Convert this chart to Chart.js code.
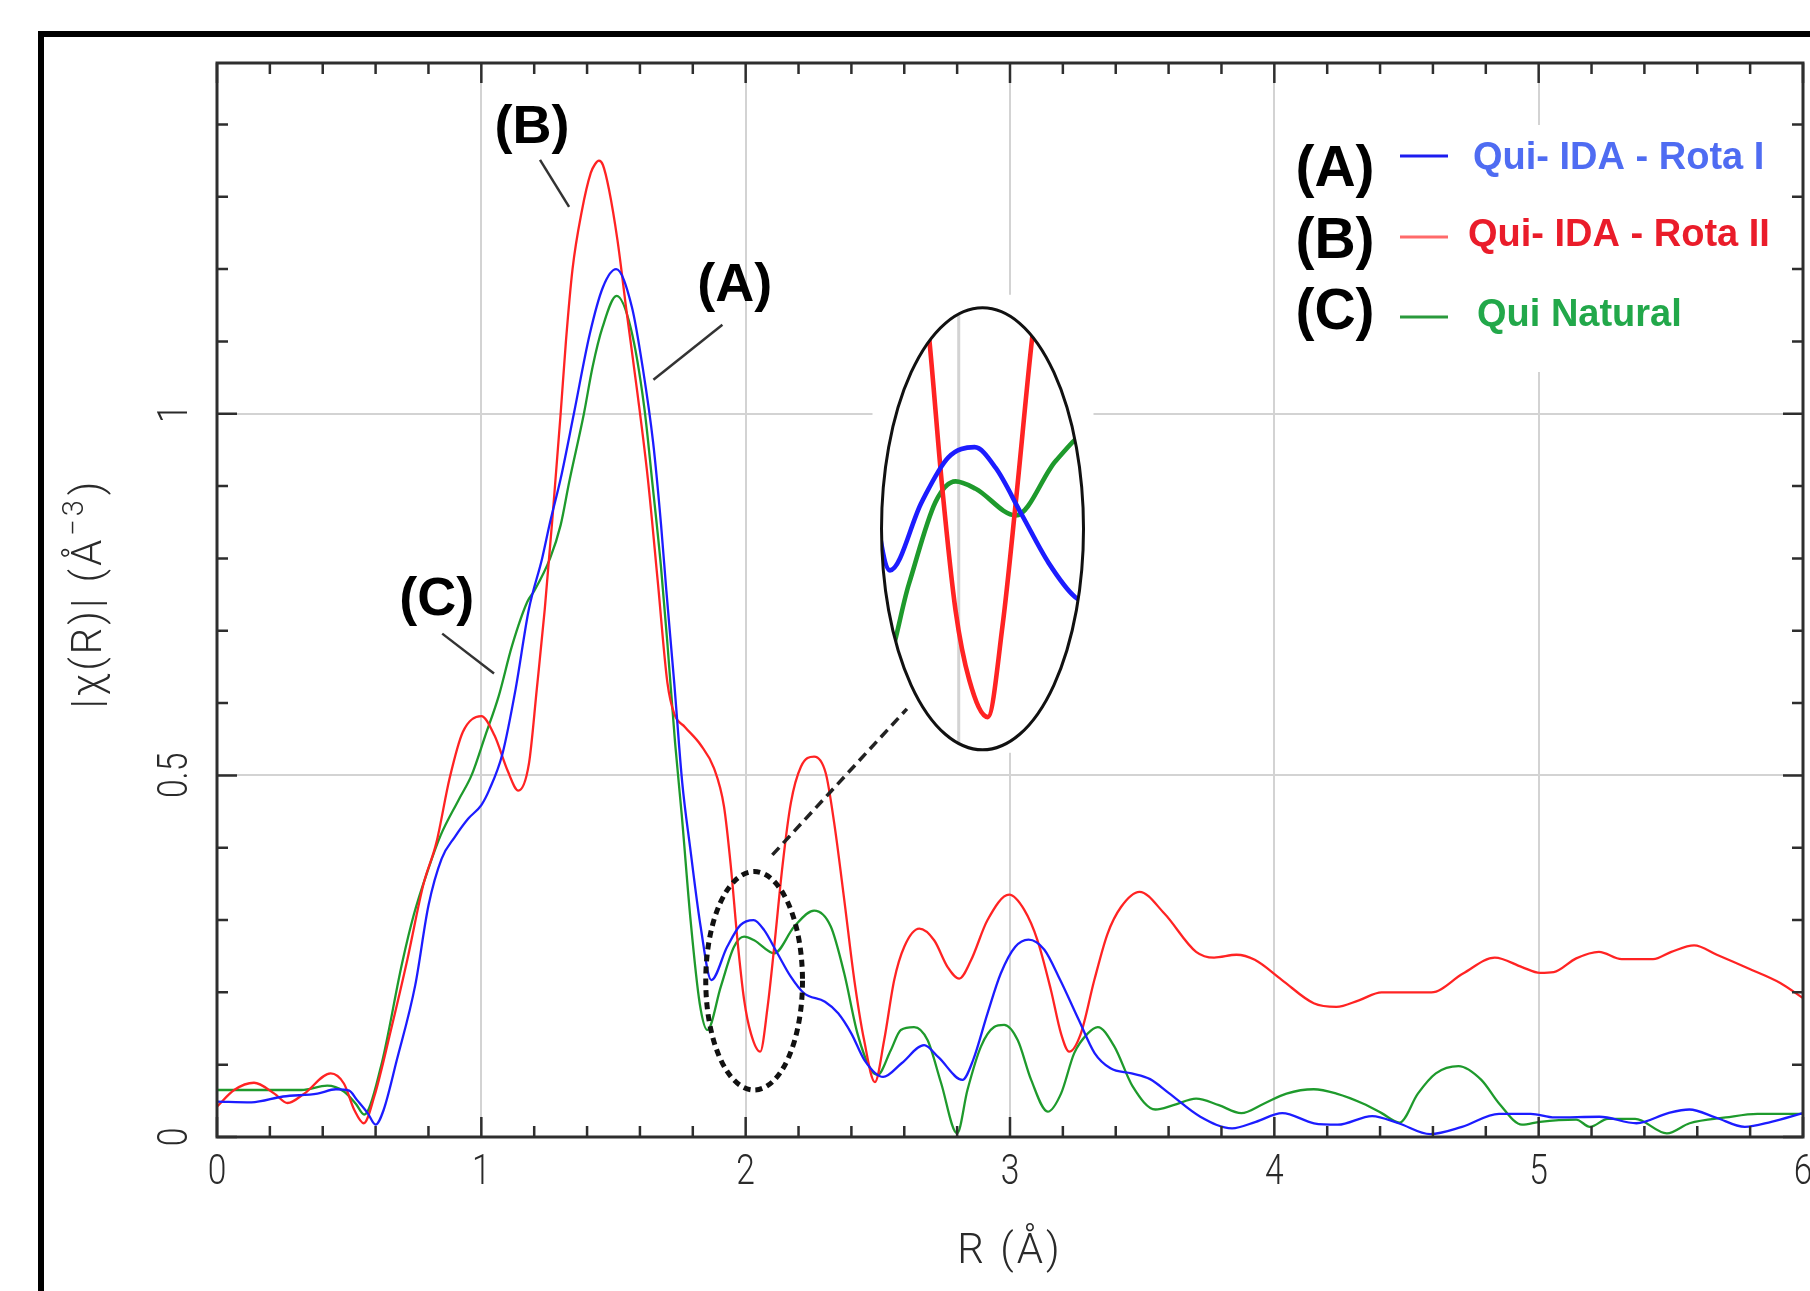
<!DOCTYPE html>
<html>
<head>
<meta charset="utf-8">
<title>|χ(R)| – Qui samples</title>
<script src="https://cdn.jsdelivr.net/npm/chart.js@4.4.1/dist/chart.umd.min.js"></script>
<style>
    html, body { margin: 0; padding: 0; background: #fff; }
    #wrap { width: 1810px; height: 1291px; position: relative; }
</style>
</head>
<body>
<div id="wrap"><canvas id="chiChart"></canvas></div>
<script>
// R (Å) positions and |chi(R)| values, one pair of arrays per sample
const rA = [0, 0.13, 0.25, 0.38, 0.45, 0.50, 0.53, 0.57, 0.60, 0.63, 0.68, 0.75, 0.80, 0.85, 0.90, 0.95, 1.00, 1.03, 1.08, 1.13, 1.18, 1.23, 1.26, 1.30, 1.35, 1.41, 1.46, 1.51, 1.57, 1.61, 1.65, 1.68, 1.70, 1.73, 1.76, 1.79, 1.83, 1.87, 1.93, 1.98, 2.03, 2.07, 2.12, 2.17, 2.22, 2.30, 2.35, 2.40, 2.45, 2.52, 2.59, 2.675, 2.73, 2.82, 2.86, 2.915, 2.965, 3.02, 3.07, 3.13, 3.19, 3.26, 3.32, 3.38, 3.46, 3.53, 3.60, 3.72, 3.84, 3.93, 4.03, 4.15, 4.24, 4.37, 4.47, 4.59, 4.71, 4.85, 4.97, 5.06, 5.23, 5.37, 5.49, 5.57, 5.67, 5.78, 5.88, 6.0];
const chiA = [0.049, 0.048, 0.056, 0.060, 0.066, 0.064, 0.051, 0.033, 0.017, 0.037, 0.106, 0.21, 0.32, 0.385, 0.415, 0.44, 0.459, 0.48, 0.53, 0.62, 0.73, 0.80, 0.85, 0.91, 1.0, 1.11, 1.175, 1.20, 1.147, 1.065, 0.96, 0.846, 0.755, 0.627, 0.49, 0.40, 0.29, 0.217, 0.263, 0.293, 0.30, 0.286, 0.254, 0.222, 0.199, 0.187, 0.171, 0.143, 0.106, 0.083, 0.102, 0.127, 0.11, 0.079, 0.106, 0.171, 0.226, 0.263, 0.273, 0.259, 0.217, 0.162, 0.116, 0.095, 0.088, 0.080, 0.061, 0.028, 0.012, 0.021, 0.033, 0.019, 0.017, 0.029, 0.019, 0.004, 0.014, 0.032, 0.032, 0.027, 0.028, 0.019, 0.033, 0.038, 0.027, 0.014, 0.021, 0.033];

const rB = [0, 0.065, 0.14, 0.217, 0.267, 0.33, 0.43, 0.48, 0.52, 0.555, 0.595, 0.658, 0.72, 0.78, 0.83, 0.88, 0.93, 1.00, 1.05, 1.10, 1.14, 1.18, 1.21, 1.24, 1.27, 1.30, 1.32, 1.345, 1.38, 1.414, 1.43, 1.445, 1.46, 1.483, 1.515, 1.55, 1.59, 1.63, 1.667, 1.704, 1.73, 1.77, 1.83, 1.88, 1.918, 1.944, 1.969, 1.994, 2.02, 2.055, 2.083, 2.108, 2.139, 2.171, 2.209, 2.259, 2.303, 2.335, 2.373, 2.411, 2.448, 2.489, 2.524, 2.562, 2.60, 2.657, 2.713, 2.764, 2.808, 2.852, 2.915, 2.997, 3.054, 3.104, 3.155, 3.193, 3.224, 3.268, 3.319, 3.369, 3.42, 3.49, 3.584, 3.704, 3.772, 3.857, 3.926, 4.029, 4.149, 4.235, 4.32, 4.406, 4.594, 4.714, 4.834, 4.937, 5.005, 5.057, 5.142, 5.228, 5.314, 5.433, 5.502, 5.588, 5.674, 5.794, 5.914, 6.0];
const chiB = [0.042, 0.065, 0.075, 0.060, 0.047, 0.060, 0.088, 0.074, 0.037, 0.019, 0.056, 0.148, 0.245, 0.348, 0.407, 0.496, 0.560, 0.582, 0.555, 0.506, 0.479, 0.516, 0.62, 0.73, 0.86, 1.0, 1.10, 1.20, 1.28, 1.333, 1.345, 1.35, 1.344, 1.31, 1.24, 1.14, 1.03, 0.91, 0.77, 0.628, 0.585, 0.567, 0.542, 0.51, 0.457, 0.374, 0.272, 0.19, 0.143, 0.118, 0.18, 0.263, 0.374, 0.462, 0.512, 0.526, 0.503, 0.434, 0.328, 0.217, 0.134, 0.076, 0.134, 0.217, 0.263, 0.288, 0.272, 0.235, 0.219, 0.244, 0.30, 0.335, 0.314, 0.272, 0.203, 0.143, 0.118, 0.143, 0.217, 0.281, 0.318, 0.339, 0.309, 0.256, 0.248, 0.252, 0.245, 0.217, 0.185, 0.18, 0.189, 0.20, 0.20, 0.226, 0.248, 0.235, 0.227, 0.228, 0.247, 0.256, 0.246, 0.246, 0.256, 0.265, 0.252, 0.233, 0.213, 0.192];

const rC = [0, 0.32, 0.417, 0.48, 0.525, 0.557, 0.62, 0.70, 0.745, 0.796, 0.846, 0.914, 0.964, 1.015, 1.066, 1.116, 1.174, 1.20, 1.26, 1.30, 1.332, 1.388, 1.421, 1.458, 1.512, 1.565, 1.616, 1.648, 1.679, 1.704, 1.733, 1.758, 1.792, 1.826, 1.855, 1.906, 1.956, 1.994, 2.032, 2.108, 2.184, 2.259, 2.322, 2.373, 2.423, 2.474, 2.499, 2.549, 2.587, 2.637, 2.688, 2.739, 2.80, 2.839, 2.89, 2.94, 2.978, 3.029, 3.08, 3.143, 3.193, 3.243, 3.294, 3.332, 3.395, 3.464, 3.55, 3.618, 3.704, 3.79, 3.875, 3.96, 4.046, 4.149, 4.235, 4.337, 4.406, 4.474, 4.543, 4.611, 4.697, 4.783, 4.851, 4.937, 5.005, 5.142, 5.194, 5.262, 5.365, 5.485, 5.571, 5.708, 5.828, 6.0];
const chiC = [0.065, 0.065, 0.071, 0.063, 0.046, 0.031, 0.097, 0.24, 0.308, 0.367, 0.417, 0.466, 0.501, 0.555, 0.61, 0.679, 0.74, 0.755, 0.80, 0.846, 0.905, 1.0, 1.065, 1.119, 1.163, 1.119, 1.01, 0.901, 0.791, 0.682, 0.545, 0.446, 0.298, 0.185, 0.148, 0.208, 0.263, 0.277, 0.272, 0.254, 0.291, 0.313, 0.291, 0.226, 0.143, 0.093, 0.086, 0.12, 0.148, 0.152, 0.134, 0.075, 0.005, 0.065, 0.125, 0.152, 0.155, 0.134, 0.079, 0.035, 0.06, 0.116, 0.143, 0.152, 0.125, 0.07, 0.038, 0.044, 0.053, 0.044, 0.033, 0.046, 0.06, 0.066, 0.06, 0.046, 0.033, 0.02, 0.06, 0.088, 0.098, 0.079, 0.046, 0.017, 0.021, 0.024, 0.014, 0.025, 0.025, 0.005, 0.019, 0.027, 0.032, 0.032];

const seriesTags = ["(A)", "(B)", "(C)"];
const seriesNames = ["Qui- IDA - Rota I", "Qui- IDA - Rota II", "Qui Natural"];
const xTicks = [0, 1, 2, 3, 4, 5, 6];
const yTicks = [0, 0.5, 1];

// styles
const lineColors = ["#1c1cff", "#ff2323", "#1e9a2c"];
const legendLineColors = ["#1c1cf0", "#ff6a6a", "#2a9a3c"];
const legendTextColors = ["#4f6cf2", "#ea1c2a", "#22a84a"];
const gridColor = "#d3d3d3";
const axisColor = "#2e2e2e";
const thinFont = 'Roboto, "Liberation Sans", sans-serif';
const boldFont = '"Liberation Sans", Arial, Helvetica, sans-serif';
const squeeze = 0.8; // tick digits are narrow in the original

// callouts next to the peaks, in data units (label baseline centre, leader start, leader end)
const callouts = [
    { text: "(B)", at: [1.192, 1.375], from: [1.222, 1.351], to: [1.332, 1.286] },
    { text: "(A)", at: [1.959, 1.156], from: [1.912, 1.123], to: [1.651, 1.047] },
    { text: "(C)", at: [0.831, 0.722], from: [0.852, 0.696], to: [1.048, 0.641] }
];
// dotted ring round the region that is magnified, and the magnified inset
const ring = { center: [2.032, 0.216], rx: 0.183, ry: 0.151 };
const connector = { from: [2.101, 0.390], to: [2.610, 0.592] };
const inset = { center: [2.896, 0.841], rx: 101, ry: 221, focus: [2.045, 0.245], zoomX: 2.0, zoomY: 2.05 };

function toPoints(xs, ys) {
    return xs.map(function (x, i) { return { x: x, y: ys[i] }; });
}

// narrow text: draw at (x, y) squeezed horizontally
function narrowText(c, text, x, y, angle) {
    c.save();
    c.translate(x, y);
    if (angle) c.rotate(angle);
    c.scale(squeeze, 1);
    c.fillText(text, 0, 0);
    c.restore();
}

const figurePlugin = {
    id: "figure",
    beforeDraw(chart) {
        const c = chart.ctx;
        c.save();
        c.fillStyle = "#fff";
        c.fillRect(0, 0, chart.width, chart.height);
        c.restore();
    },
    beforeDatasetsDraw(chart) {
        // white patches hide the grid behind the legend and the inset
        const c = chart.ctx, ca = chart.chartArea;
        const sx = chart.scales.x, sy = chart.scales.y;
        c.save();
        c.fillStyle = "#fff";
        c.fillRect(ca.right - 513, ca.top + 62, 508, 247);
        const ex = sx.getPixelForValue(inset.center[0]);
        const ey = sy.getPixelForValue(inset.center[1]);
        c.fillRect(ex - 110, ey - 234, 221, 458);
        c.restore();
    },
    afterDatasetsDraw(chart) {
        const c = chart.ctx, ca = chart.chartArea;
        const sx = chart.scales.x, sy = chart.scales.y;
        const px = v => sx.getPixelForValue(v);
        const py = v => sy.getPixelForValue(v);
        const unitX = px(1) - px(0);
        const unitY = py(0) - py(1);

        c.save();

        // dotted ring
        c.beginPath();
        c.ellipse(px(ring.center[0]), py(ring.center[1]), ring.rx * unitX, ring.ry * unitY, 0, 0, Math.PI * 2);
        c.setLineDash([7, 5]);
        c.lineWidth = 5;
        c.strokeStyle = "#111";
        c.stroke();

        // dashed connector
        c.beginPath();
        c.moveTo(px(connector.from[0]), py(connector.from[1]));
        c.lineTo(px(connector.to[0]), py(connector.to[1]));
        c.setLineDash([10, 6]);
        c.lineWidth = 3.5;
        c.strokeStyle = "#222";
        c.stroke();
        c.setLineDash([]);

        // magnified inset: same line elements, redrawn through a zoom transform
        const ex = px(inset.center[0]), ey = py(inset.center[1]);
        c.save();
        c.beginPath();
        c.ellipse(ex, ey, inset.rx, inset.ry, 0, 0, Math.PI * 2);
        c.clip();
        c.translate(ex, ey);
        c.scale(inset.zoomX, inset.zoomY);
        c.translate(-px(inset.focus[0]), -py(inset.focus[1]));
        c.strokeStyle = gridColor;
        c.lineWidth = 1.5;
        xTicks.forEach(function (t) {
            c.beginPath();
            c.moveTo(px(t), ca.top);
            c.lineTo(px(t), ca.bottom);
            c.stroke();
        });
        for (let i = chart.data.datasets.length - 1; i >= 0; i--) {
            chart.getDatasetMeta(i).dataset.draw(c, ca);
        }
        c.restore();
        c.beginPath();
        c.ellipse(ex, ey, inset.rx, inset.ry, 0, 0, Math.PI * 2);
        c.lineWidth = 3;
        c.strokeStyle = "#111";
        c.stroke();

        // callouts
        c.font = "bold 54px " + boldFont;
        c.textAlign = "center";
        c.textBaseline = "alphabetic";
        callouts.forEach(function (k) {
            c.fillStyle = "#000";
            c.fillText(k.text, px(k.at[0]), py(k.at[1]));
            c.beginPath();
            c.moveTo(px(k.from[0]), py(k.from[1]));
            c.lineTo(px(k.to[0]), py(k.to[1]));
            c.lineWidth = 2.5;
            c.strokeStyle = "#333";
            c.stroke();
        });

        // legend
        const tagY = [186, 258, 329];
        const lineY = [156, 237, 317];
        const textX = [1473, 1468, 1477];
        const textY = [169, 246, 326];
        for (let i = 0; i < 3; i++) {
            c.font = "bold 57px " + boldFont;
            c.textAlign = "center";
            c.fillStyle = "#000";
            c.fillText(seriesTags[i], 1335, tagY[i]);
            c.beginPath();
            c.moveTo(1400, lineY[i]);
            c.lineTo(1448, lineY[i]);
            c.lineWidth = 3;
            c.strokeStyle = legendLineColors[i];
            c.stroke();
            c.font = "bold 38px " + boldFont;
            c.textAlign = "left";
            c.fillStyle = legendTextColors[i];
            c.fillText(seriesNames[i], textX[i], textY[i]);
        }

        // frame of the plot with inward ticks on all four sides
        c.strokeStyle = axisColor;
        c.lineWidth = 3;
        c.strokeRect(ca.left, ca.top, ca.right - ca.left, ca.bottom - ca.top);
        c.lineWidth = 2.5;
        c.beginPath();
        for (let i = 0; i <= 30; i++) {
            const x = px(i / 5);
            const len = i % 5 === 0 ? 20 : 11;
            c.moveTo(x, ca.bottom); c.lineTo(x, ca.bottom - len);
            c.moveTo(x, ca.top); c.lineTo(x, ca.top + len);
        }
        for (let i = 0; i <= 14; i++) {
            const y = py(i / 10);
            const len = i % 5 === 0 ? 20 : 11;
            c.moveTo(ca.left, y); c.lineTo(ca.left + len, y);
            c.moveTo(ca.right, y); c.lineTo(ca.right - len, y);
        }
        c.stroke();

        // tick labels
        c.fillStyle = "#2a2a2a";
        c.font = "300 42px " + thinFont;
        c.textAlign = "center";
        c.textBaseline = "middle";
        xTicks.forEach(function (t) {
            narrowText(c, String(t), px(t), ca.bottom + 36);
        });
        yTicks.forEach(function (t) {
            narrowText(c, String(t), ca.left - 41, py(t), -Math.PI / 2);
        });

        // axis titles, wider spaced lettering
        c.letterSpacing = "3px";
        c.fillText("R (Å)", (ca.left + ca.right) / 2, ca.bottom + 115);
        c.save();
        c.translate(ca.left - 127, (ca.top + ca.bottom) / 2 - 5);
        c.rotate(-Math.PI / 2);
        const head = "|χ(R)| (Å", sup = "−3", tail = ")";
        c.font = "300 42px " + thinFont;
        const wHead = c.measureText(head).width, wTail = c.measureText(tail).width;
        c.font = "300 29px " + thinFont;
        const wSup = c.measureText(sup).width;
        const x0 = -(wHead + wSup + wTail) / 2;
        c.textAlign = "left";
        c.font = "300 42px " + thinFont;
        c.fillText(head, x0, 0);
        c.font = "300 29px " + thinFont;
        c.fillText(sup, x0 + wHead + 1, -14);
        c.font = "300 42px " + thinFont;
        c.fillText(tail, x0 + wHead + wSup + 3, 0);
        c.restore();
        c.letterSpacing = "0px";

        c.restore();
    },
    afterDraw(chart) {
        // outer black frame of the figure
        const c = chart.ctx;
        c.save();
        c.strokeStyle = "#000";
        c.lineWidth = 6;
        c.strokeRect(41, 34, 2000, 2000);
        c.restore();
    }
};

document.addEventListener("DOMContentLoaded", function () {
    const ctx = document.getElementById("chiChart").getContext("2d");
    const lines = [[rA, chiA], [rB, chiB], [rC, chiC]];

    new Chart(ctx, {
        type: "line",
        data: {
            datasets: lines.map(function (pair, i) {
                return {
                    label: seriesNames[i],
                    data: toPoints(pair[0], pair[1]),
                    borderColor: lineColors[i],
                    borderWidth: 2.3,
                    pointRadius: 0,
                    fill: false,
                    cubicInterpolationMode: "monotone"
                };
            })
        },
        options: {
            responsive: true,
            maintainAspectRatio: false,
            animation: false,
            events: [],
            layout: { padding: { top: 63, right: 7, bottom: 0, left: 0 } },
            plugins: {
                legend: { display: false },
                tooltip: { enabled: false }
            },
            scales: {
                x: {
                    type: "linear",
                    min: 0,
                    max: 6,
                    afterFit: function (s) { s.height = 154; },
                    ticks: { display: false, stepSize: 1 },
                    grid: { color: gridColor, lineWidth: 2, drawTicks: false },
                    border: { display: false }
                },
                y: {
                    min: 0,
                    max: 1.485,
                    afterFit: function (s) { s.width = 217; },
                    ticks: { display: false, stepSize: 0.5, includeBounds: false },
                    grid: { color: gridColor, lineWidth: 2, drawTicks: false },
                    border: { display: false }
                }
            }
        },
        plugins: [figurePlugin]
    });
});
</script>
</body>
</html>
